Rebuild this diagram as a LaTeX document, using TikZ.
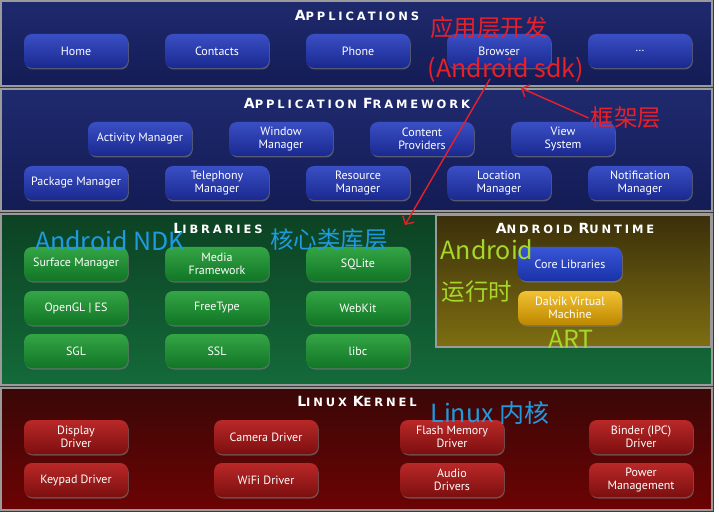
\documentclass[tikz,border=0pt]{standalone}
\usepackage{fontspec}
\setmainfont{PT Sans}
\newfontfamily\cjk{Noto Sans CJK SC}
\newfontfamily\titlefont[LetterSpace=25]{DejaVu Sans}
\usetikzlibrary{arrows.meta,shadows}

\definecolor{gapgray}{HTML}{3A3A3A}
\definecolor{edgegray}{HTML}{9A9A9A}
\definecolor{apptop}{HTML}{1F2A6E}
\definecolor{appbot}{HTML}{141C55}
\definecolor{bluetop}{HTML}{3A4FC4}
\definecolor{bluebot}{HTML}{1A2990}
\definecolor{libtop}{HTML}{0C4223}
\definecolor{libbot}{HTML}{146A3A}
\definecolor{greentop}{HTML}{34A545}
\definecolor{greenbot}{HTML}{117526}
\definecolor{rttop}{HTML}{3A2F0A}
\definecolor{rtbot}{HTML}{7E6E12}
\definecolor{coretop}{HTML}{3956D8}
\definecolor{corebot}{HTML}{1A32A8}
\definecolor{goldtop}{HTML}{F2C232}
\definecolor{goldbot}{HTML}{BD8700}
\definecolor{krntop}{HTML}{3A0707}
\definecolor{krnbot}{HTML}{6C0303}
\definecolor{redtop}{HTML}{BA2828}
\definecolor{redbot}{HTML}{7C0F0F}
\definecolor{annored}{HTML}{E8202A}
\definecolor{annoblue}{HTML}{1E9BE0}
\definecolor{annogreen}{HTML}{A6D82A}

\newcommand{\layername}[2]{{\fontsize{14}{15}\selectfont #1}{\fontsize{11.5}{15}\selectfont #2}}

\begin{document}
\begin{tikzpicture}[x=1pt, y=-1pt,
	panel/.style={draw=edgegray, line width=1.5pt},
	btn/.style={rounded corners=8pt, minimum width=104pt, minimum height=34pt,
		align=center, text=white, font=\fontsize{12}{12.5}\selectfont,
		drop shadow={shadow xshift=0.8pt, shadow yshift=-1.5pt, opacity=0.6}},
	appbtn/.style={btn, top color=bluetop, bottom color=bluebot},
	libbtn/.style={btn, top color=greentop, bottom color=greenbot},
	corebtn/.style={btn, top color=coretop, bottom color=corebot},
	vmbtn/.style={btn, top color=goldtop, bottom color=goldbot},
	krnbtn/.style={btn, top color=redtop, bottom color=redbot},
	layertitle/.style={text=white, font=\titlefont\bfseries},
	anno/.style={font=\cjk\fontsize{25}{28}\selectfont, inner sep=0pt},
	annocn/.style={anno, font=\cjk\fontsize{23.5}{26}\selectfont},
	annoarrow/.style={annored, line width=1.4pt, -{Straight Barb[length=6pt, width=13pt]}}]
	\useasboundingbox (0,0) rectangle (719,518);
	\fill[white] (0,0) rectangle (719,518);
	\fill[gapgray] (0,0) rectangle (714,512);

	% layers
	\draw[panel, top color=apptop, bottom color=appbot] (1,1) rectangle (712,86);
	\draw[panel, top color=apptop, bottom color=appbot] (1,89) rectangle (712,211);
	\draw[panel, top color=libtop, bottom color=libbot] (1,214) rectangle (712,385);
	\draw[panel, top color=rttop, bottom color=rtbot] (436,215) rectangle (711,347);
	\draw[panel, top color=krntop, bottom color=krnbot] (1,388) rectangle (712,510);

	\node[layertitle] (tApps) at (357,15) {\layername{A}{PPLICATIONS}};
	\node[layertitle] (tFrame) at (357,103) {\layername{A}{PPLICATION} \layername{F}{RAMEWORK}};
	\node[layertitle] (tLibs) at (218,228) {\layername{L}{IBRARIES}};
	\node[layertitle] (tRuntime) at (575,228) {\layername{A}{NDROID} \layername{R}{UNTIME}};
	\node[layertitle] (tKernel) at (357,401) {\layername{L}{INUX} \layername{K}{ERNEL}};

	% applications
	\node[appbtn] (home) at (76,51) {Home};
	\node[appbtn] (contacts) at (217,51) {Contacts};
	\node[appbtn] (phone) at (358,51) {Phone};
	\node[appbtn] (browser) at (499,51) {Browser};
	\node[appbtn] (more) at (640,51) {\dots};

	% framework
	\node[appbtn] (activity) at (140,139) {Activity Manager};
	\node[appbtn] (window) at (281,139) {Window\\Manager};
	\node[appbtn] (content) at (422,139) {Content\\Providers};
	\node[appbtn] (view) at (563,139) {View\\System};
	\node[appbtn] (package) at (76,183) {Package Manager};
	\node[appbtn] (telephony) at (217,183) {Telephony\\Manager};
	\node[appbtn] (resource) at (358,183) {Resource\\Manager};
	\node[appbtn] (location) at (499,183) {Location\\Manager};
	\node[appbtn] (notify) at (640,183) {Notification\\Manager};

	% libraries
	\node[libbtn] (surface) at (76,264) {Surface Manager};
	\node[libbtn] (media) at (217,264) {Media\\Framework};
	\node[libbtn] (sqlite) at (358,264) {SQLite};
	\node[libbtn] (opengl) at (76,308) {OpenGL | ES};
	\node[libbtn] (freetype) at (217,308) {FreeType};
	\node[libbtn] (webkit) at (358,308) {WebKit};
	\node[libbtn] (sgl) at (76,351) {SGL};
	\node[libbtn] (ssl) at (217,351) {SSL};
	\node[libbtn] (libc) at (358,351) {libc};

	% runtime
	\node[corebtn] (corelib) at (570,264) {Core Libraries};
	\node[vmbtn] (dalvik) at (570,308) {Dalvik Virtual\\Machine};

	% kernel
	\node[krnbtn] (display) at (76,437) {Display\\Driver};
	\node[krnbtn] (camera) at (266,437) {Camera Driver};
	\node[krnbtn] (flash) at (452,437) {Flash Memory\\Driver};
	\node[krnbtn] (binder) at (641,437) {Binder (IPC)\\Driver};
	\node[krnbtn] (keypad) at (76,480) {Keypad Driver};
	\node[krnbtn] (wifi) at (266,480) {WiFi Driver};
	\node[krnbtn] (audio) at (452,480) {Audio\\Drivers};
	\node[krnbtn] (power) at (641,480) {Power\\Management};

	% notes
	\node[annocn, text=annored] (appDev) at (489,28) {应用层开发};
	\node[anno, text=annored] (sdk) at (506,70) {(Android sdk)};
	\node[annocn, text=annored] (frameNote) at (626,118) {框架层};
	\node[anno, text=annoblue] (ndk) at (110,241) {Android NDK};
	\node[annocn, text=annoblue] (coreNote) at (329,240) {核心类库层};
	\node[anno, text=annogreen] (rtNote) at (487,250) {Android};
	\node[annocn, text=annogreen] (rtNoteCn) at (477,292) {运行时};
	\node[anno, text=annogreen] (art) at (571,339) {ART};
	\node[anno, text=annoblue] (linuxNote) at (490,413) {Linux 内核};

	\coordinate (sdkTip) at (405,225);
	\coordinate (frameTip) at (521,88);
	\draw[annoarrow] ([xshift=-16pt, yshift=4pt]sdk.south) -- (sdkTip);
	\draw[annoarrow] ([xshift=-2pt]frameNote.west) -- (frameTip);
\end{tikzpicture}
\end{document}
